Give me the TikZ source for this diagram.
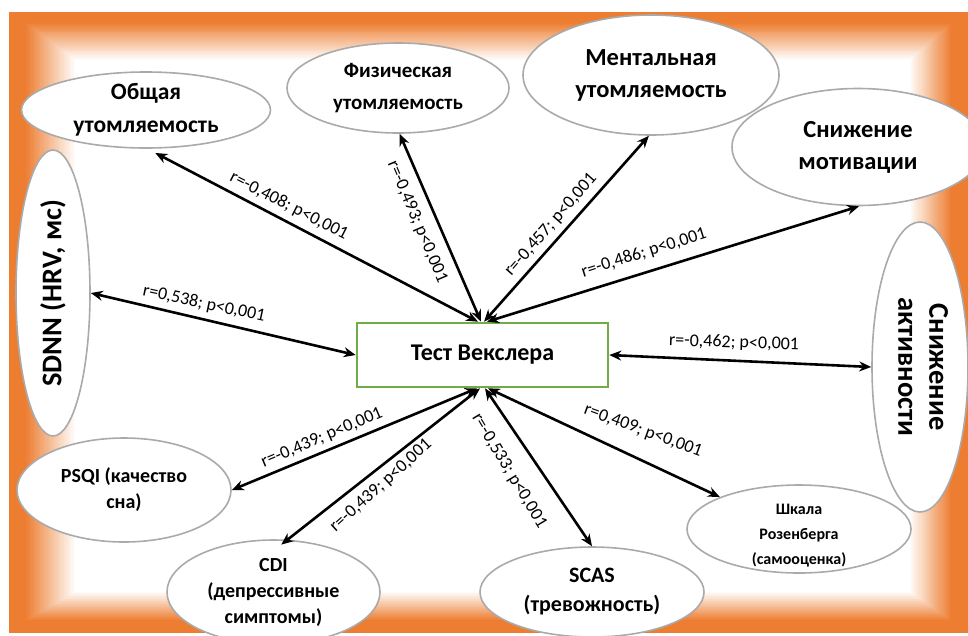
\documentclass[tikz,border=0pt]{standalone}
\usepackage{fontspec}
\setmainfont{Carlito}
\usetikzlibrary{shapes.geometric,arrows.meta}
\definecolor{frameor}{RGB}{237,125,49}
\definecolor{ellgray}{RGB}{170,170,170}
\definecolor{boxgreen}{RGB}{112,173,71}
\begin{document}
\begin{tikzpicture}[x=1pt,y=-1pt,
  ell/.style={ellipse, draw=ellgray, line width=1.6pt, fill=white, inner sep=-60pt, align=center},
  bigf/.style={font=\bfseries\fontsize{24.5}{32}\selectfont},
  obf/.style={font=\bfseries\fontsize{23.5}{33}\selectfont},
  fzf/.style={font=\bfseries\fontsize{21}{32}\selectfont},
  midf/.style={font=\bfseries\fontsize{20}{26}\selectfont},
  scf/.style={font=\bfseries\fontsize{22}{29}\selectfont},
  vertf/.style={font=\bfseries\fontsize{28.5}{31}\selectfont},
  smallf/.style={font=\bfseries\fontsize{16}{25}\selectfont},
  conn/.style={line width=2.6pt, {Stealth[length=12pt,width=10pt]}-{Stealth[length=12pt,width=10pt]}},
  lab/.style={font=\fontsize{18}{20}\selectfont, inner sep=0pt}]
\useasboundingbox (0,0) rectangle (968,635);
% frame
\fill[frameor] (9,12) rectangle (968,633);
\foreach \i in {0,...,40}{
  \pgfmathsetmacro\t{\i/40}
  \pgfmathsetmacro\p{100*(1-\t)}
  \fill[frameor!\p!white] (25+50*\t, 22+38*\t) rectangle (952-42*\t, 621-29*\t);
}
% nodes
\node[ell, obf, minimum width=249, minimum height=76] (obsh) at (146,110) {Общая\\утомляемость};
\node[ell, fzf, minimum width=222, minimum height=90] (fiz) at (398,88) {Физическая\\утомляемость};
\node[ell, bigf, minimum width=256, minimum height=120] (men) at (651,75) {Ментальная\\утомляемость};
\node[ell, bigf, minimum width=252, minimum height=117] (mot) at (858,147) {Снижение\\мотивации};
\node[ell, vertf, minimum width=74, minimum height=286] (sdnn) at (53,293) {\rotatebox{90}{SDNN (HRV, мс)}};
\node[ell, vertf, minimum width=96, minimum height=290] (akt) at (920,367)
  {\rotatebox{-90}{\begin{tabular}{@{}c@{}}Снижение\\активности\end{tabular}}};
\node[ell, midf, minimum width=214, minimum height=104] (psqi) at (124,490) {PSQI (качество\\сна)};
\node[ell, midf, minimum width=213, minimum height=104] (cdi) at (273.5,592) {CDI\\(депрессивные\\симптомы)};
\node[ell, scf, minimum width=224, minimum height=90] (scas) at (592,592) {SCAS\\(тревожность)};
\node[ell, smallf, minimum width=224, minimum height=88] (ros) at (799,529) {\raisebox{-10pt}[0pt][0pt]{\begin{tabular}{@{}c@{}}Шкала\\Розенберга\\(самооценка)\end{tabular}}};
\node[draw=boxgreen, line width=2.6pt, fill=white, minimum width=251, minimum height=64,
  font=\bfseries\fontsize{24}{28}\selectfont] (weks) at (482.5,355) {Тест Векслера};
% hub points
\coordinate (tA) at ([xshift=-4.5pt]weks.north);
\coordinate (tB) at ([xshift=-1.5pt]weks.north);
\coordinate (tC) at ([xshift=1.5pt]weks.north);
\coordinate (tD) at ([xshift=4.5pt]weks.north);
\coordinate (bA) at ([xshift=-5.5pt]weks.south);
\coordinate (bB) at ([xshift=-2.5pt]weks.south);
\coordinate (bC) at ([xshift=2.5pt]weks.south);
\coordinate (bD) at ([xshift=5.5pt]weks.south);
% connectors
\draw[conn, shorten >=9pt] (tA) -- (obsh.-88);
\draw[conn] (tB) -- (fiz.-88);
\draw[conn] (tC) -- (men.-92);
\draw[conn] (tD) -- (mot.-89);
\draw[conn] (weks.west) -- (sdnn.east);
\draw[conn] (weks.east) -- (akt.west);
\draw[conn] (bA) -- (psqi.east);
\draw[conn, shorten >=-8pt] (bB) -- (cdi.75);
\draw[conn] (bC) -- (scas.north);
\draw[conn] (bD) -- (ros.158);
% labels
\node[lab, rotate=-27] (l1) at (289,206) {r=-0,408; p<0,001};
\node[lab, rotate=-67] (l2) at (417,222) {r=-0,493; p<0,001};
\node[lab, rotate=48.7] (l3) at (551,225) {r=-0,457; p<0,001};
\node[lab, rotate=17.6] (l4) at (644,253) {r=-0,486; p<0,001};
\node[lab, rotate=-12] (l5) at (204,304) {r=0,538; p<0,001};
\node[lab, rotate=-2] (l6) at (734,343) {r=-0,462; p<0,001};
\node[lab, rotate=23] (l7) at (322,438) {r=-0,439; p<0,001};
\node[lab, rotate=42] (l8) at (381,486) {r=-0,439; p<0,001};
\node[lab, rotate=-59] (l9) at (509,471) {r=-0,533; p<0,001};
\node[lab, rotate=-20] (l10) at (643,431) {r=0,409; p<0,001};
\end{tikzpicture}
\end{document}
